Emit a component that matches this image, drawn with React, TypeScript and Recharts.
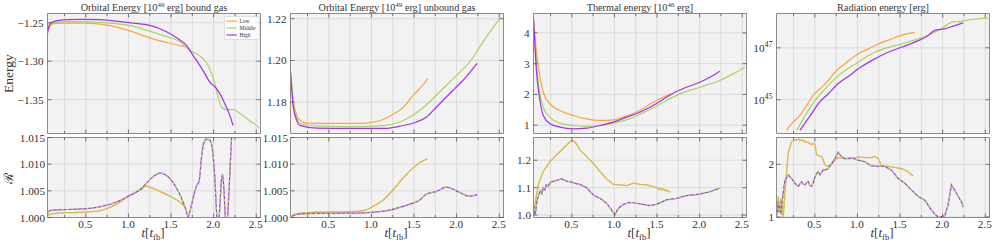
import React from 'react';
import { LineChart, Line, XAxis, YAxis, CartesianGrid, Legend } from 'recharts';

type Pt = [number, number];

// ---------- categories / labels ----------
const seriesNames = ['Low', 'Middle', 'High'];
const seriesColors = ['#ffa23f', '#a9d65e', '#a435ea'];
const xTicks = [0.25, 0.5, 0.75, 1, 1.25, 1.5, 1.75, 2, 2.25, 2.5];
const X_DOMAIN: [number, number] = [0.05, 2.55];

// ---------- Panel 1: orbital energy, bound gas [1e49 erg] ----------
const boundLow: Pt[] = [[0.05, -1.2643], [0.08, -1.2548], [0.12, -1.2513], [0.24, -1.2505], [0.47, -1.2504], [0.67, -1.2518], [0.86, -1.2557], [1.06, -1.2622], [1.25, -1.2698], [1.45, -1.2757], [1.66, -1.2812]];
const boundMid: Pt[] = [[0.05, -1.263], [0.08, -1.2518], [0.14, -1.2496], [0.28, -1.2487], [0.47, -1.2487], [0.67, -1.2496], [0.86, -1.2513], [1.06, -1.2548], [1.25, -1.261], [1.45, -1.268], [1.6, -1.2745], [1.72, -1.286], [1.8, -1.2903], [1.877, -1.2968], [1.935, -1.3055], [1.975, -1.3162], [2.014, -1.3292], [2.052, -1.3466], [2.092, -1.3596], [2.151, -1.363], [2.228, -1.363], [2.287, -1.3661], [2.365, -1.3726], [2.444, -1.3791], [2.503, -1.3834], [2.53, -1.3864]];
const boundHigh: Pt[] = [[0.05, -1.262], [0.08, -1.2513], [0.14, -1.2479], [0.28, -1.2461], [0.47, -1.2457], [0.67, -1.2461], [0.86, -1.2479], [1.06, -1.2505], [1.25, -1.2535], [1.37, -1.2578], [1.49, -1.2643], [1.6, -1.2721], [1.68, -1.2795], [1.759, -1.2925], [1.838, -1.3055], [1.896, -1.3162], [1.955, -1.3271], [2.034, -1.3357], [2.072, -1.3422], [2.131, -1.3552], [2.19, -1.3704], [2.228, -1.3834]];
const boundRatioLow: Pt[] = [[0.05, 1.0004], [0.08, 1.0006], [0.16, 1.0008], [0.47, 1.001], [0.665, 1.0013], [0.86, 1.0025], [1.0, 1.004], [1.134, 1.0051], [1.212, 1.0059], [1.25, 1.0057], [1.369, 1.0049], [1.486, 1.004], [1.603, 1.0029], [1.66, 1.0021]];
const boundRatioHigh: Pt[] = [[0.05, 1.0008], [0.08, 1.0013], [0.16, 1.00145], [0.28, 1.0015], [0.47, 1.0016], [0.665, 1.002], [0.86, 1.0029], [1.0, 1.004], [1.134, 1.0052], [1.252, 1.0071], [1.369, 1.0083], [1.486, 1.0073], [1.603, 1.0043], [1.682, 1.0011], [1.7, 1.0001], [1.74, 1.0024], [1.799, 1.0059], [1.83, 1.0068], [1.857, 1.0112], [1.885, 1.014], [1.916, 1.0147], [1.955, 1.0145], [1.986, 1.0128], [2.014, 1.0074], [2.041, 0.9996], [2.055, 0.999], [2.072, 1.0018], [2.09, 1.0068], [2.104, 1.0081], [2.12, 1.0055], [2.143, 0.9992], [2.16, 0.999], [2.17, 1.0018], [2.19, 1.0081], [2.209, 1.0144], [2.228, 1.0169]];

// ---------- Panel 2: orbital energy, unbound gas [1e49 erg] ----------
const unbLow: Pt[] = [[0.05, 1.1945], [0.083, 1.1809], [0.123, 1.1737], [0.161, 1.1713], [0.24, 1.17], [0.552, 1.1698], [0.748, 1.1698], [0.943, 1.17], [1.138, 1.1717], [1.255, 1.1742], [1.372, 1.1775], [1.49, 1.1833], [1.548, 1.1857], [1.607, 1.1884], [1.665, 1.1914]];
const unbMid: Pt[] = [[0.05, 1.1945], [0.083, 1.1794], [0.123, 1.1722], [0.161, 1.1698], [0.357, 1.1686], [0.748, 1.1683], [1.138, 1.1688], [1.334, 1.1705], [1.451, 1.1729], [1.568, 1.1761], [1.724, 1.1818], [1.82, 1.1857], [1.92, 1.1897], [2.04, 1.1945], [2.154, 1.1993], [2.31, 1.2089], [2.514, 1.2206]];
const unbHigh: Pt[] = [[0.05, 1.1945], [0.083, 1.1777], [0.123, 1.1713], [0.161, 1.1689], [0.357, 1.1676], [0.748, 1.1674], [1.138, 1.1674], [1.334, 1.1685], [1.529, 1.1705], [1.647, 1.1729], [1.764, 1.1777], [1.92, 1.1842], [1.978, 1.1865], [2.076, 1.1905], [2.24, 1.1986]];
const unbRatioLow: Pt[] = [[0.05, 1.0], [0.083, 1.0005], [0.161, 1.0008], [0.357, 1.001], [0.748, 1.0011], [0.903, 1.0013], [1.02, 1.0021], [1.138, 1.0033], [1.255, 1.0052], [1.372, 1.0074], [1.49, 1.0093], [1.568, 1.0103], [1.654, 1.011]];
const unbRatioHigh: Pt[] = [[0.05, 1.0], [0.123, 1.0006], [0.357, 1.00076], [0.748, 1.0008], [1.02, 1.001], [1.216, 1.0014], [1.334, 1.0019], [1.451, 1.0025], [1.568, 1.0033], [1.647, 1.0044], [1.764, 1.0049], [1.881, 1.0057], [1.998, 1.005], [2.076, 1.0044], [2.134, 1.004], [2.193, 1.0041], [2.24, 1.0043]];

// ---------- Panel 3: thermal energy [1e46 erg] ----------
const thLow: Pt[] = [[0.05, 4.454], [0.0875, 3.318], [0.126, 2.558], [0.165, 2.071], [0.243, 1.695], [0.361, 1.477], [0.517, 1.315], [0.674, 1.206], [0.83, 1.153], [0.986, 1.174], [1.143, 1.3], [1.299, 1.477], [1.454, 1.747], [1.572, 1.909], [1.67, 2.019]];
const thMid: Pt[] = [[0.05, 4.454], [0.0875, 2.883], [0.126, 2.019], [0.165, 1.584], [0.243, 1.26], [0.361, 1.065], [0.517, 0.99], [0.674, 0.958], [0.83, 0.99], [0.986, 1.065], [1.143, 1.174], [1.299, 1.347], [1.454, 1.563], [1.611, 1.802], [1.767, 2.019], [2.002, 2.234], [2.236, 2.451], [2.392, 2.669], [2.53, 2.883]];
const thHigh: Pt[] = [[0.05, 4.454], [0.0875, 2.669], [0.126, 1.802], [0.165, 1.315], [0.243, 1.045], [0.361, 0.935], [0.517, 0.882], [0.674, 0.903], [0.83, 0.99], [0.986, 1.097], [1.143, 1.26], [1.299, 1.422], [1.454, 1.64], [1.611, 1.909], [1.689, 2.039], [1.846, 2.234], [2.002, 2.396], [2.158, 2.614], [2.236, 2.753]];
const thRatioLow: Pt[] = [[0.05, 1.006], [0.067, 1.037], [0.106, 1.11], [0.165, 1.159], [0.243, 1.195], [0.322, 1.22], [0.4, 1.244], [0.459, 1.262], [0.498, 1.271], [0.537, 1.268], [0.595, 1.238], [0.674, 1.213], [0.752, 1.189], [0.83, 1.159], [0.908, 1.132], [0.986, 1.112], [1.064, 1.11], [1.143, 1.107], [1.221, 1.116], [1.299, 1.112], [1.377, 1.11], [1.454, 1.104], [1.5, 1.1], [1.52, 1.093], [1.54, 1.098], [1.56, 1.09], [1.58, 1.095], [1.6, 1.087], [1.62, 1.092], [1.64, 1.084], [1.658, 1.086]];
const thRatioHigh: Pt[] = [[0.05, 1.0], [0.06, 1.03], [0.07, 1.0], [0.09, 1.05], [0.106, 1.067], [0.13, 1.09], [0.15, 1.078], [0.165, 1.1], [0.185, 1.092], [0.2, 1.11], [0.22, 1.105], [0.25, 1.12], [0.3, 1.125], [0.38, 1.132], [0.439, 1.124], [0.498, 1.12], [0.55, 1.115], [0.595, 1.112], [0.674, 1.1], [0.752, 1.073], [0.83, 1.061], [0.908, 1.043], [0.967, 1.018], [1.006, 1.002], [1.045, 1.024], [1.104, 1.039], [1.182, 1.046], [1.26, 1.043], [1.338, 1.039], [1.416, 1.034], [1.494, 1.039], [1.611, 1.055], [1.728, 1.061], [1.846, 1.071], [2.002, 1.076], [2.119, 1.085], [2.236, 1.098]];

// ---------- Panel 4: radiation energy [erg] ----------
const radLow: Pt[] = [[0.169, 6.6e43], [0.228, 1.2e44], [0.325, 2.5e44], [0.404, 6.0e44], [0.482, 1.5e45], [0.58, 3.0e45], [0.658, 5.5e45], [0.756, 1.35e46], [0.853, 2.4e46], [1.01, 5.9e46], [1.127, 9.1e46], [1.244, 1.4e47], [1.4, 2.2e47], [1.517, 3.0e47], [1.674, 4.0e47]];
const radMid: Pt[] = [[0.287, 6.6e43], [0.345, 1.4e44], [0.423, 3.9e44], [0.502, 9.3e44], [0.619, 2.6e45], [0.736, 6.5e45], [0.853, 1.35e46], [1.01, 2.8e46], [1.166, 5.9e46], [1.322, 9.5e46], [1.517, 1.4e47], [1.713, 2.2e47], [1.869, 3.5e47], [1.986, 5.4e47], [2.103, 9.5e47], [2.221, 1.05e48], [2.338, 1.23e48], [2.533, 1.4e48]];
const radHigh: Pt[] = [[0.325, 6.6e43], [0.384, 1.26e44], [0.462, 2.9e44], [0.541, 7.1e44], [0.658, 1.7e45], [0.775, 4.2e45], [0.892, 7.9e45], [1.01, 1.55e46], [1.166, 3.2e46], [1.322, 5.9e46], [1.517, 1.05e47], [1.674, 1.66e47], [1.83, 3.0e47], [1.908, 4.7e47], [2.025, 5.4e47], [2.142, 7.2e47], [2.24, 9.1e47]];
const radRatioLow: Pt[] = [[0.06, 1.1], [0.071, 1.386], [0.08, 1.2], [0.091, 1.165], [0.1, 1.35], [0.11, 1.291], [0.12, 1.1], [0.13, 1.0], [0.149, 1.48], [0.169, 1.86], [0.189, 2.24], [0.228, 2.43], [0.267, 2.46], [0.306, 2.48], [0.345, 2.45], [0.365, 2.46], [0.384, 2.42], [0.423, 2.42], [0.462, 2.37], [0.48, 2.4], [0.502, 2.38], [0.521, 2.18], [0.58, 2.15], [0.6, 2.08], [0.619, 1.99], [0.658, 1.96], [0.697, 2.0], [0.736, 2.08], [0.775, 2.13], [0.853, 2.11], [0.931, 2.11], [1.01, 2.14], [1.088, 2.13], [1.166, 2.13], [1.2, 2.15], [1.244, 2.11], [1.283, 1.97], [1.361, 1.96], [1.439, 1.94], [1.517, 1.92], [1.595, 1.86], [1.654, 1.78]];
const radRatioHigh: Pt[] = [[0.06, 1.04], [0.071, 1.29], [0.08, 1.1], [0.091, 1.2], [0.1, 1.05], [0.11, 1.2], [0.13, 1.48], [0.149, 1.7], [0.169, 1.75], [0.189, 1.8], [0.21, 1.76], [0.228, 1.73], [0.267, 1.64], [0.29, 1.6], [0.306, 1.58], [0.325, 1.63], [0.345, 1.67], [0.365, 1.62], [0.384, 1.61], [0.405, 1.66], [0.423, 1.67], [0.44, 1.6], [0.462, 1.58], [0.48, 1.65], [0.502, 1.76], [0.521, 1.82], [0.541, 1.86], [0.56, 1.8], [0.58, 1.85], [0.6, 1.9], [0.619, 1.89], [0.658, 1.92], [0.697, 2.02], [0.736, 2.11], [0.775, 2.23], [0.795, 2.18], [0.814, 2.15], [0.853, 2.11], [0.931, 2.12], [1.01, 2.08], [1.088, 2.05], [1.166, 1.97], [1.244, 1.96], [1.322, 1.96], [1.4, 1.89], [1.478, 1.73], [1.556, 1.64], [1.635, 1.51], [1.713, 1.39], [1.791, 1.32], [1.869, 1.13], [1.928, 1.02], [1.947, 1.01], [1.986, 1.006], [2.025, 1.025], [2.064, 1.23], [2.103, 1.61], [2.162, 1.45], [2.221, 1.29], [2.24, 1.19]];

// ---------- layout / style ----------
const PANEL_W = 213;
const Y_AXIS_W = 47.5;
const CHART_W = 268;
const PANEL_STEP = 243;
const TOP_ROW = { chartTop: 0, chartH: 137, mTop: 12.5, mBottom: 2.5, xAxisH: 1 };
const BOT_ROW = { chartTop: 130, chartH: 118, mTop: 6.5, mBottom: 0.5, xAxisH: 30 };
const FRAME = { stroke: '#8c8c8c', strokeWidth: 1 };
const TICK_COLOR = '#555555';
const TEXT_COLOR = '#333333';
const LABEL_FONT = 'Liberation Serif';
const TICK_FONT = 'Liberation Serif';
const TICK_FS = 11.2;

type Fmt = (v: number) => React.ReactNode;
const fmtFixed = (d: number): Fmt => (v) => (v < 0 ? '\u2212' + Math.abs(v).toFixed(d) : v.toFixed(d));
const fmtInt: Fmt = (v) => String(Math.round(v));
const fmtPow: Fmt = (v) => {
  const e = Math.round(Math.log10(v));
  return [
    <tspan key="b">10</tspan>,
    <tspan key="e" dy={-5} fontSize={8}>{e}</tspan>,
  ];
};

const isMajorX = (v: number) => Math.abs(v * 2 - Math.round(v * 2)) < 1e-6;

const bottomTick = (labels: boolean) => (p: any) => {
  const v = p.payload.value;
  const major = isMajorX(v);
  return (
    <g>
      <line x1={p.x} x2={p.x} y1={p.y} y2={p.y - (major ? 4 : 2.5)} stroke={TICK_COLOR} strokeWidth={0.8} />
      {labels && major && (
        <text x={p.x - 0.5} y={p.y + 10.8} textAnchor="middle" fontFamily={TICK_FONT} fontSize={TICK_FS} fill={TEXT_COLOR}>
          {v.toFixed(1)}
        </text>
      )}
    </g>
  );
};
const topTick = (p: any) => {
  const major = isMajorX(p.payload.value);
  return <line x1={p.x} x2={p.x} y1={p.y} y2={p.y + (major ? 4 : 2.5)} stroke={TICK_COLOR} strokeWidth={0.8} />;
};
const leftTick = (fmt: Fmt, gap: number) => (p: any) => (
  <g>
    <line x1={p.x} x2={p.x + 4} y1={p.y} y2={p.y} stroke={TICK_COLOR} strokeWidth={0.8} />
    <text x={p.x - gap} y={p.y} dy="0.36em" textAnchor="end" fontFamily={TICK_FONT} fontSize={TICK_FS} fill={TEXT_COLOR}>
      {fmt(p.payload.value)}
    </text>
  </g>
);
const rightTick = (p: any) => <line x1={p.x} x2={p.x - 4} y1={p.y} y2={p.y} stroke={TICK_COLOR} strokeWidth={0.8} />;

interface LineSpec { key: string; data: Pt[]; color: string; dashed?: boolean; smooth?: boolean; }
interface PanelSpec {
  col: number;
  row: 'top' | 'bottom';
  yDomain: [number, number];
  yTicks: number[];
  yFmt: Fmt;
  log?: boolean;
  lines: LineSpec[];
  title?: React.ReactNode;
  yLabel?: string;
  legend?: boolean;
}

const PLOT_CX = Y_AXIS_W + PANEL_W / 2;

const titleLabel = (title: React.ReactNode) => () => (
  <text x={PLOT_CX} y={10.5} textAnchor="middle" fontFamily={LABEL_FONT} fontSize={10.2} fill={TEXT_COLOR}>
    {title}
  </text>
);
const xLabel = () => (
  <text x={PLOT_CX - 1} y={107} textAnchor="middle" fontFamily={LABEL_FONT} fontSize={13} fill={TEXT_COLOR}>
    <tspan fontStyle="italic">t</tspan>
    <tspan>[</tspan>
    <tspan fontStyle="italic">t</tspan>
    <tspan dy={2.5} fontSize={8.5}>fb</tspan>
    <tspan dy={-2.5}>]</tspan>
  </text>
);
const yLabelFn = (txt: string, cy: number) => () => (
  <text x={12.5} y={cy} transform={`rotate(-90, 12.5, ${cy})`} textAnchor="middle" fontFamily={txt === 'Energy' ? LABEL_FONT : 'DejaVu Serif'} fontSize={txt === 'Energy' ? 13.5 : 13} fill={TEXT_COLOR}>
    {txt}
  </text>
);

const LegendBox = () => (
  <svg width={36} height={24} style={{ display: 'block' }}>
    <rect x={0.5} y={0.5} width={35} height={23} rx={1.5} fill="rgba(255,255,255,0.85)" stroke="#cccccc" strokeWidth={0.6} />
    {seriesNames.map((n, i) => (
      <g key={n}>
        <line x1={2.5} x2={13} y1={5 + i * 7} y2={5 + i * 7} stroke={seriesColors[i]} strokeWidth={1.2} />
        <text x={15.5} y={5 + i * 7} dy="0.35em" fontSize={5.5} fontFamily={LABEL_FONT} fill={TEXT_COLOR}>{n}</text>
      </g>
    ))}
  </svg>
);

const rows = (pts: Pt[]) => pts.map(([x, y]) => ({ x, y }));

function Panel({ spec }: { spec: PanelSpec }) {
  const isTop = spec.row === 'top';
  const g = isTop ? TOP_ROW : BOT_ROW;
  const left = spec.col * PANEL_STEP;
  const scale = spec.log ? 'log' : 'linear';
  return (
    <div style={{ position: 'absolute', left, top: g.chartTop, width: CHART_W, height: g.chartH }}>
      <LineChart
        width={CHART_W}
        height={g.chartH}
        margin={{ top: g.mTop, right: CHART_W - Y_AXIS_W - PANEL_W - 1, bottom: g.mBottom, left: 0 }}
      >
        <CartesianGrid xAxisId="b" yAxisId="l" fill="#f2f2f2" stroke="#d8d8d8" strokeWidth={0.9} />
        <XAxis
          xAxisId="b" type="number" dataKey="x" domain={X_DOMAIN} allowDataOverflow ticks={xTicks} interval={0}
          height={g.xAxisH} tickSize={0} tickMargin={0} axisLine={FRAME} tickLine={false}
          tick={bottomTick(!isTop)} label={!isTop ? xLabel : undefined}
        />
        <XAxis
          xAxisId="t" orientation="top" type="number" dataKey="x" domain={X_DOMAIN} allowDataOverflow ticks={xTicks} interval={0}
          height={1} tickSize={0} tickMargin={0} axisLine={FRAME} tickLine={false} tick={topTick}
          label={spec.title ? titleLabel(spec.title) : undefined}
        />
        <YAxis
          yAxisId="l" type="number" scale={scale} domain={spec.yDomain} allowDataOverflow ticks={spec.yTicks} interval={0}
          width={Y_AXIS_W} tickSize={0} tickMargin={0} axisLine={FRAME} tickLine={false}
          tick={leftTick(spec.yFmt, isTop ? 4 : 2.5)}
          label={spec.yLabel ? yLabelFn(spec.yLabel, isTop ? 73.5 : 48) : undefined}
        />
        <YAxis
          yAxisId="r" orientation="right" type="number" scale={scale} domain={spec.yDomain} allowDataOverflow ticks={spec.yTicks} interval={0}
          width={1} tickSize={0} tickMargin={0} axisLine={FRAME} tickLine={false} tick={rightTick}
        />
        {spec.lines.map((l) => (
          <Line
            key={l.key}
            xAxisId="b"
            yAxisId="l"
            data={rows(l.data)}
            dataKey="y"
            name={l.key}
            type={l.smooth ? 'monotone' : 'linear'}
            stroke={l.color}
            strokeWidth={1.25}
            strokeDasharray={l.dashed ? '2.5 2.5' : undefined}
            dot={false}
            activeDot={false}
            legendType="none"
            isAnimationActive={false}
          />
        ))}
        {spec.legend && (
          <Legend
            layout="vertical"
            align="center"
            verticalAlign="middle"
            content={() => <LegendBox />}
            wrapperStyle={{ position: 'absolute', left: 224, top: 16, width: 36, height: 24, margin: 0, padding: 0 }}
          />
        )}
      </LineChart>
    </div>
  );
}

const [cLow, cMid, cHigh] = seriesColors;
const trio = (a: Pt[], b: Pt[], c: Pt[]): LineSpec[] => [
  { key: 'Low', data: a, color: cLow, smooth: true },
  { key: 'Middle', data: b, color: cMid, smooth: true },
  { key: 'High', data: c, color: cHigh, smooth: true },
];
const ratioPair = (a: Pt[], b: Pt[], smooth: boolean): LineSpec[] => [
  { key: 'LowR', data: a, color: cLow, smooth },
  { key: 'LowRm', data: a, color: cMid, dashed: true, smooth },
  { key: 'HighR', data: b, color: cHigh, smooth },
  { key: 'HighRm', data: b, color: cMid, dashed: true, smooth },
];

const titleOrbit = (kind: string) => [
  <tspan key="a">Orbital Energy [10</tspan>,
  <tspan key="b" dy={-4} fontSize={7}>49</tspan>,
  <tspan key="c" dy={4}>{` erg] ${kind}`}</tspan>,
];
const titleThermal = [
  <tspan key="a">Thermal energy [10</tspan>,
  <tspan key="b" dy={-4} fontSize={7}>46</tspan>,
  <tspan key="c" dy={4}> erg]</tspan>,
];

const panels: PanelSpec[] = [
  { col: 0, row: 'top', yDomain: [-1.394, -1.238], yTicks: [-1.35, -1.3, -1.25], yFmt: fmtFixed(2), lines: trio(boundLow, boundMid, boundHigh), title: titleOrbit('bound gas'), yLabel: 'Energy', legend: true },
  { col: 1, row: 'top', yDomain: [1.165, 1.2225], yTicks: [1.18, 1.2, 1.22], yFmt: fmtFixed(2), lines: trio(unbLow, unbMid, unbHigh), title: titleOrbit('unbound gas') },
  { col: 2, row: 'top', yDomain: [0.73, 4.63], yTicks: [1, 2, 3, 4], yFmt: fmtInt, lines: trio(thLow, thMid, thHigh), title: titleThermal },
  { col: 3, row: 'top', yDomain: [5e43, 2.1e48], yTicks: [1e45, 1e47], yFmt: fmtPow, log: true, lines: trio(radLow, radMid, radHigh), title: 'Radiation energy [erg]' },
  { col: 0, row: 'bottom', yDomain: [1.0, 1.015], yTicks: [1.0, 1.005, 1.01, 1.015], yFmt: fmtFixed(3), lines: ratioPair(boundRatioLow, boundRatioHigh, true), yLabel: '\u211B' },
  { col: 1, row: 'bottom', yDomain: [1.0, 1.015], yTicks: [1.0, 1.005, 1.01, 1.015], yFmt: fmtFixed(3), lines: ratioPair(unbRatioLow, unbRatioHigh, true) },
  { col: 2, row: 'bottom', yDomain: [0.991, 1.283], yTicks: [1.0, 1.1, 1.2], yFmt: fmtFixed(1), lines: ratioPair(thRatioLow, thRatioHigh, false) },
  { col: 3, row: 'bottom', yDomain: [0.99, 2.51], yTicks: [1, 2], yFmt: fmtInt, lines: ratioPair(radRatioLow, radRatioHigh, false) },
];

export default function App() {
  return (
    <div style={{ position: 'absolute', left: 0, top: 0, width: 997, height: 248, background: '#ffffff', overflow: 'hidden' }}>
      {panels.map((p, i) => (
        <Panel key={i} spec={p} />
      ))}
    </div>
  );
}
